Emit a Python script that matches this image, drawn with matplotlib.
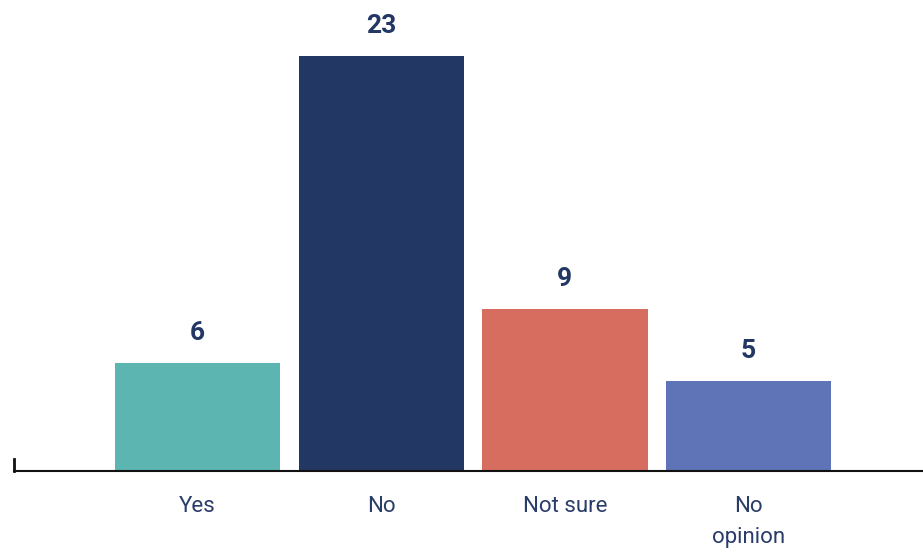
import matplotlib.pyplot as plt

# Survey answers
categories = ['Yes', 'No', 'Not sure', 'No\nopinion']
counts = [6, 23, 9, 5]
bar_colors = ['#5cb5b1', '#223764', '#d66d5e', '#5f74b6']
text_color = '#223764'

plt.rcParams['font.family'] = ['Roboto', 'DejaVu Sans']

fig = plt.figure(figsize=(9.23, 5.54), dpi=100)
ax = fig.add_axes([14 / 923, 1 - 471 / 554, 1 - 14 / 923, 471 / 554])

x = list(range(len(categories)))
bars = ax.bar(x, counts, width=0.9, color=bar_colors)

for bar, n in zip(bars, counts):
    ax.annotate(str(n), (bar.get_x() + bar.get_width() / 2, n),
                xytext=(0, 13), textcoords='offset points',
                ha='center', va='bottom', fontsize=19, fontweight='bold',
                color=text_color)

ax.set_xlim(-1.0, 3.95)
ax.set_ylim(0, 26.1)

for side in ['top', 'right', 'left']:
    ax.spines[side].set_visible(False)
ax.spines['bottom'].set_linewidth(1.5)
ax.spines['bottom'].set_color('#111111')
ax.axvline(-1.0, ymin=0, ymax=12 / 471, color='#111111', linewidth=2, clip_on=False)

ax.set_xticks(x)
ax.set_xticklabels(categories, fontsize=16, color='#2a3c6a', linespacing=1.6)
ax.tick_params(axis='x', length=0, pad=18)
ax.set_yticks([])

fig.savefig('out.png', dpi=100)
